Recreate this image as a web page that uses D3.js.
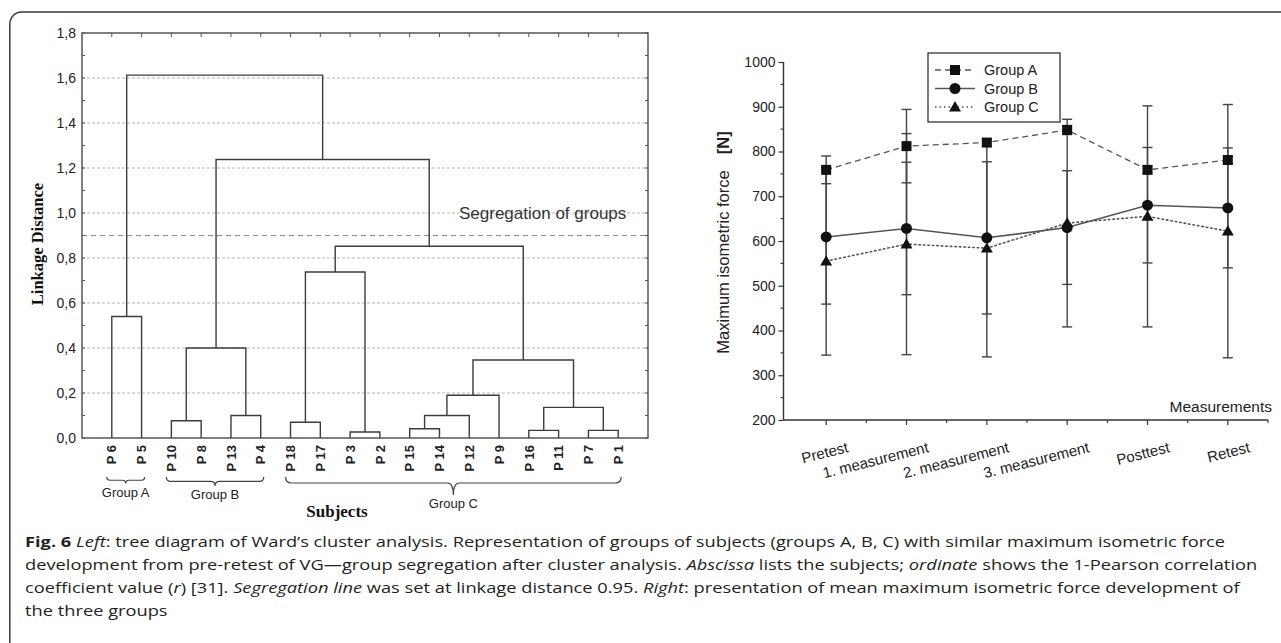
<!DOCTYPE html>
<html><head><meta charset="utf-8">
<script src="https://cdn.jsdelivr.net/npm/d3@7"></script>
<style>
html,body{margin:0;padding:0;background:#fff;}
svg{display:block;}
</style></head><body>
<svg id="fig" width="1281" height="643"></svg>
<script>
// ================= DATA =================
// Left panel: Ward's cluster dendrogram
const leafLabels = ["P 6","P 5","P 10","P 8","P 13","P 4","P 18","P 17","P 3","P 2","P 15","P 14","P 12","P 9","P 16","P 11","P 7","P 1"];
// merges: [child a, child b, linkage distance]; index < 18 = leaf, >= 18 = earlier merge
const merges = [
  [8, 9, 0.027], [16, 17, 0.034], [14, 15, 0.034], [10, 11, 0.041], [6, 7, 0.07],
  [2, 3, 0.077], [4, 5, 0.10], [21, 12, 0.10], [20, 19, 0.136], [25, 13, 0.19],
  [27, 26, 0.347], [23, 24, 0.40], [0, 1, 0.54], [22, 18, 0.738], [31, 28, 0.852],
  [29, 32, 1.238], [30, 33, 1.613]
];
const linkageTicks = [0, 0.2, 0.4, 0.6, 0.8, 1.0, 1.2, 1.4, 1.6, 1.8];
const segregationLevel = 0.9;
const clusterGroups = [
  {name: "Group A", first: 0, last: 1},
  {name: "Group B", first: 2, last: 5},
  {name: "Group C", first: 6, last: 17}
];

// Right panel: mean maximum isometric force [N] with SD
const measurements = ["Pretest", "1. measurement", "2. measurement", "3. measurement", "Posttest", "Retest"];
const groupNames = ["Group A", "Group B", "Group C"];
const meanA = [759, 812, 820, 848, 759, 781];
const meanB = [609, 628, 607, 630, 680, 674];
const meanC = [555, 593, 584, 640, 655, 622];
const sdA = [31, 82, 8, 10, 8, 8];
const sdB = [150, 148, 170, 127, 129, 134];
const sdC = [210, 247, 243, 232, 247, 283];
const forceTicks = [200, 300, 400, 500, 600, 700, 800, 900, 1000];

// Caption
const captionLines = [
  [["Fig. 6", "b"], [" ", ""], ["Left", "i"], [": tree diagram of Ward\u2019s cluster analysis. Representation of groups of subjects (groups A, B, C) with similar maximum isometric force", ""]],
  [["development from pre-retest of VG\u2014group segregation after cluster analysis. ", ""], ["Abscissa", "i"], [" lists the subjects; ", ""], ["ordinate", "i"], [" shows the 1-Pearson correlation", ""]],
  [["coefficient value (", ""], ["r", "i"], [") [31]. ", ""], ["Segregation line", "i"], [" was set at linkage distance 0.95. ", ""], ["Right", "i"], [": presentation of mean maximum isometric force development of", ""]],
  [["the three groups", ""]]
];

// ================= DRAW =================
const svg = d3.select("#fig");
const SANS = "'Liberation Sans', Arial, sans-serif";
const SERIF = "'Liberation Serif', 'Times New Roman', serif";

// outer frame (rounded top-left corner)
svg.append("path")
  .attr("d", "M9.8,660 V24 A12,12 0 0 1 21.8,12 H1300")
  .attr("fill", "none").attr("stroke", "#3a3a3a").attr("stroke-width", 1.5);

// ---------- LEFT: dendrogram ----------
const L = {left: 82, right: 648, top: 33, bottom: 438};
const xD = d3.scaleLinear().domain([0, leafLabels.length + 1]).range([L.left, L.right]);
const yD = d3.scaleLinear().domain([0, 1.8]).range([L.bottom, L.top]);
const gL = svg.append("g");

// gridlines
gL.selectAll("line.grid").data(linkageTicks.filter(t => t > 0 && t < 1.8)).join("line")
  .attr("x1", L.left).attr("x2", L.right)
  .attr("y1", d => yD(d)).attr("y2", d => yD(d))
  .attr("stroke", "#b5b5b5").attr("stroke-width", 1).attr("stroke-dasharray", "3,2");

// segregation line
gL.append("line")
  .attr("x1", L.left).attr("x2", L.right)
  .attr("y1", yD(segregationLevel)).attr("y2", yD(segregationLevel))
  .attr("stroke", "#8a8a8a").attr("stroke-width", 1.2).attr("stroke-dasharray", "5,4");
gL.append("text").attr("x", 459).attr("y", yD(1.0) + 6)
  .attr("font-family", SANS).attr("font-size", 17).attr("fill", "#333")
  .text("Segregation of groups");

// dendrogram nodes
const nodes = leafLabels.map((l, i) => ({x: xD(i + 1), h: 0}));
merges.forEach(([a, b, h]) => {
  const A = nodes[a], B = nodes[b];
  nodes.push({x: (A.x + B.x) / 2, h, A, B});
});
gL.selectAll("path.link").data(nodes.filter(n => n.A)).join("path")
  .attr("d", n => `M${n.A.x},${yD(n.A.h)}V${yD(n.h)}H${n.B.x}V${yD(n.B.h)}`)
  .attr("fill", "none").attr("stroke", "#3c3c3c").attr("stroke-width", 1.4);

// plot frame
gL.append("rect").attr("x", L.left).attr("y", L.top)
  .attr("width", L.right - L.left).attr("height", L.bottom - L.top)
  .attr("fill", "none").attr("stroke", "#4a4a4a").attr("stroke-width", 1.4);

// y axis labels
const yAxisL = d3.axisLeft(yD).tickValues(linkageTicks).tickSize(0).tickPadding(6)
  .tickFormat(d => d3.format(".1f")(d).replace(".", ","));
const ya = gL.append("g").attr("transform", `translate(${L.left},0)`).call(yAxisL);
ya.select(".domain").remove();
ya.selectAll("text").attr("font-family", SANS).attr("font-size", 14).attr("fill", "#222");

// minor inward ticks on left / right edges, every 0.1
const minorL = d3.range(0, 19).map(i => i / 10);
gL.selectAll("line.tl").data(minorL).join("line")
  .attr("x1", L.left).attr("x2", L.left + 3).attr("y1", d => yD(d)).attr("y2", d => yD(d))
  .attr("stroke", "#555");
gL.selectAll("line.tr").data(minorL).join("line")
  .attr("x1", L.right).attr("x2", L.right - 3).attr("y1", d => yD(d)).attr("y2", d => yD(d))
  .attr("stroke", "#555");
// top ticks at leaf positions
gL.selectAll("line.tt").data(leafLabels).join("line")
  .attr("x1", (d, i) => xD(i + 1)).attr("x2", (d, i) => xD(i + 1))
  .attr("y1", L.top).attr("y2", L.top + 4).attr("stroke", "#555");

// leaf labels (rotated)
gL.selectAll("text.leaf").data(leafLabels).join("text")
  .attr("transform", (d, i) => `translate(${xD(i + 1)},${L.bottom + 7}) rotate(-90)`)
  .attr("text-anchor", "end").attr("dy", "0.36em")
  .attr("font-family", SANS).attr("font-size", 13).attr("font-weight", "bold").attr("fill", "#222")
  .text(d => d);

// group braces
const braceTop = 477;
clusterGroups.forEach(g => {
  const x1 = xD(g.first + 1) - 5, x2 = xD(g.last + 1) + 3;
  const w = x2 - x1, xm = (x1 + x2) / 2;
  const d = Math.min(18, 5 + w / 25), c = Math.min(6, d * 0.5);
  const y0 = braceTop;
  const p = `M${x1},${y0} Q${x1},${y0 + c} ${x1 + c},${y0 + c} H${xm - c} Q${xm},${y0 + c} ${xm},${y0 + d}` +
            ` Q${xm},${y0 + c} ${xm + c},${y0 + c} H${x2 - c} Q${x2},${y0 + c} ${x2},${y0}`;
  gL.append("path").attr("d", p).attr("fill", "none").attr("stroke", "#444").attr("stroke-width", 1.2);
  gL.append("text").attr("x", xm).attr("y", y0 + d + 13).attr("text-anchor", "middle")
    .attr("font-family", SANS).attr("font-size", 13).attr("fill", "#222").text(g.name);
});

// axis titles
gL.append("text").attr("x", 337).attr("y", 517).attr("text-anchor", "middle")
  .attr("font-family", SERIF).attr("font-weight", "bold").attr("font-size", 17).attr("fill", "#111")
  .text("Subjects");
gL.append("text").attr("transform", `translate(43,244) rotate(-90)`).attr("text-anchor", "middle")
  .attr("font-family", SERIF).attr("font-weight", "bold").attr("font-size", 16.5).attr("fill", "#111")
  .text("Linkage Distance");

// ---------- RIGHT: line chart ----------
const R = {left: 783.5, right: 1268, top: 62, bottom: 420};
const xM = d3.scalePoint().domain(measurements).range([786, 1268]).padding(0.5);
const yF = d3.scaleLinear().domain([200, 1000]).range([R.bottom, R.top]);
const gR = svg.append("g");
const step = xM.step();

// axes
gR.append("line").attr("x1", R.left).attr("x2", R.left).attr("y1", yF(1000)).attr("y2", yF(200))
  .attr("stroke", "#333").attr("stroke-width", 1.4);
gR.append("line").attr("x1", R.left).attr("x2", R.right).attr("y1", R.bottom).attr("y2", R.bottom)
  .attr("stroke", "#333").attr("stroke-width", 1.4);
const yAxisR = d3.axisLeft(yF).tickValues(forceTicks).tickSize(5).tickPadding(3).tickFormat(d3.format("d"));
const yr = gR.append("g").attr("transform", `translate(${R.left},0)`).call(yAxisR);
yr.select(".domain").remove();
yr.selectAll("line").attr("stroke", "#333").attr("stroke-width", 1.2);
yr.selectAll("text").attr("font-family", SANS).attr("font-size", 14).attr("fill", "#222");
gR.selectAll("line.ymin").data(forceTicks.slice(0, -1).map(t => t + 50)).join("line")
  .attr("x1", R.left - 3).attr("x2", R.left).attr("y1", d => yF(d)).attr("y2", d => yF(d))
  .attr("stroke", "#333").attr("stroke-width", 1.1);
// x ticks
gR.selectAll("line.xmaj").data(measurements).join("line")
  .attr("x1", d => xM(d)).attr("x2", d => xM(d)).attr("y1", R.bottom).attr("y2", R.bottom + 5)
  .attr("stroke", "#333").attr("stroke-width", 1.2);
gR.selectAll("line.xmin").data(measurements).join("line")
  .attr("x1", d => xM(d) + step / 2).attr("x2", d => xM(d) + step / 2)
  .attr("y1", R.bottom).attr("y2", R.bottom + 3).attr("stroke", "#333").attr("stroke-width", 1.1);
// x tick labels
gR.selectAll("text.xl").data(measurements).join("text")
  .attr("transform", d => `translate(${xM(d) + 23},${R.bottom + 32}) rotate(-14)`)
  .attr("text-anchor", "end")
  .attr("font-family", SANS).attr("font-size", 15).attr("fill", "#222").text(d => d);
// axis titles
gR.append("text").attr("x", 1272).attr("y", 412).attr("text-anchor", "end")
  .attr("font-family", SANS).attr("font-size", 15.5).attr("fill", "#222").text("Measurements");
const yt = gR.append("text").attr("transform", `translate(729,242.5) rotate(-90)`).attr("text-anchor", "middle")
  .attr("font-family", SANS).attr("font-size", 16.5).attr("fill", "#222");
yt.append("tspan").text("Maximum isometric force");
yt.append("tspan").attr("dx", 16).attr("font-weight", "bold").text("[N]");

// series
const series = [
  {name: groupNames[0], mean: meanA, sd: sdA, dash: "6,4", sym: d3.symbolSquare, size: 100, w: 1.3},
  {name: groupNames[1], mean: meanB, sd: sdB, dash: null, sym: d3.symbolCircle, size: 95, w: 1.5},
  {name: groupNames[2], mean: meanC, sd: sdC, dash: "1.5,3", sym: d3.symbolTriangle, size: 62, w: 1.6}
];
// error bars
series.forEach(s => {
  const eb = gR.append("g").attr("stroke", "#444").attr("stroke-width", 1.4);
  measurements.forEach((m, i) => {
    const x = xM(m), lo = yF(s.mean[i] - s.sd[i]), hi = yF(s.mean[i] + s.sd[i]);
    eb.append("line").attr("x1", x).attr("x2", x).attr("y1", lo).attr("y2", hi);
    eb.append("line").attr("x1", x - 5).attr("x2", x + 5).attr("y1", lo).attr("y2", lo);
    eb.append("line").attr("x1", x - 5).attr("x2", x + 5).attr("y1", hi).attr("y2", hi);
  });
});
// lines
const lineGen = d3.line().x((d, i) => xM(measurements[i])).y(d => yF(d));
series.forEach(s => {
  gR.append("path").attr("d", lineGen(s.mean)).attr("fill", "none")
    .attr("stroke", "#555").attr("stroke-width", s.w)
    .attr("stroke-dasharray", s.dash).attr("stroke-linecap", s.dash === "1.5,3" ? "round" : "butt");
});
// markers
series.forEach(s => {
  gR.selectAll(null).data(s.mean).join("path")
    .attr("transform", (d, i) => `translate(${xM(measurements[i])},${yF(d) + (s.sym === d3.symbolTriangle ? 1 : 0)})`)
    .attr("d", d3.symbol().type(s.sym).size(s.size)).attr("fill", "#111");
});
// legend
const lg = gR.append("g");
lg.append("rect").attr("x", 928).attr("y", 53).attr("width", 132).attr("height", 69)
  .attr("fill", "#fff").attr("stroke", "#333").attr("stroke-width", 1.3);
series.forEach((s, k) => {
  const y = 70 + k * 18.5;
  lg.append("line").attr("x1", 935).attr("x2", 975).attr("y1", y).attr("y2", y)
    .attr("stroke", "#555").attr("stroke-width", s.w).attr("stroke-dasharray", s.dash);
  lg.append("path").attr("transform", `translate(955,${y + (s.sym === d3.symbolTriangle ? 1 : 0)})`)
    .attr("d", d3.symbol().type(s.sym).size(s.size)).attr("fill", "#111");
  lg.append("text").attr("x", 984).attr("y", y).attr("dy", "0.36em")
    .attr("font-family", SANS).attr("font-size", 14.5).attr("fill", "#222").text(s.name);
});

// ---------- caption (ragged-right text block, one common horizontal scale) ----------
const capBase = [547, 570, 593, 616];
const capTexts = captionLines.map((segs, li) => {
  const t = svg.append("text").attr("x", 0).attr("y", 0)
    .attr("font-family", "'Open Sans', 'Noto Sans', sans-serif").attr("font-size", 14.5).attr("fill", "#231f20")
    .attr("xml:space", "preserve");
  segs.forEach(([txt, st]) => {
    const sp = t.append("tspan").text(txt);
    if (st === "b") sp.attr("font-weight", "bold");
    if (st === "i") sp.attr("font-style", "italic");
  });
  return t;
});
const widest = d3.max(capTexts, t => t.node().getComputedTextLength());
const sx = (1258 - 25) / widest;
capTexts.forEach((t, li) => t.attr("transform", `translate(25,${capBase[li]}) scale(${sx},1)`));
</script>
</body></html>
